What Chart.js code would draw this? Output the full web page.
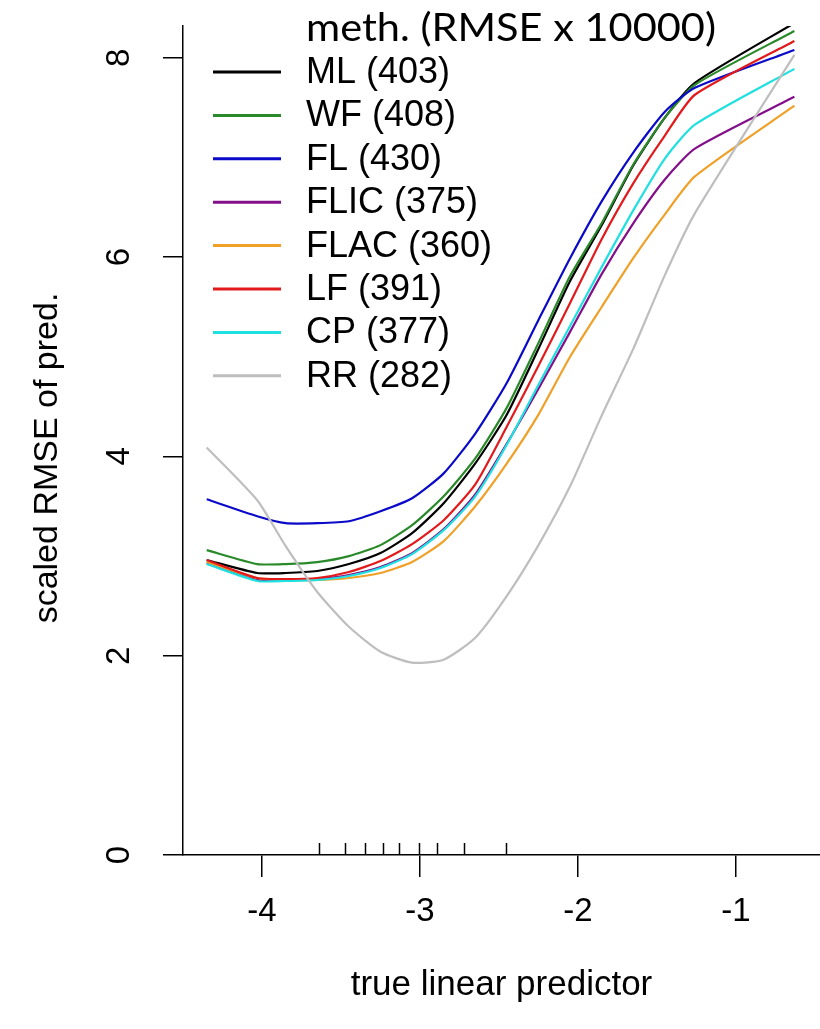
<!DOCTYPE html>
<html>
<head>
<meta charset="utf-8">
<script src="https://cdn.jsdelivr.net/npm/chart.js@4.4.1/dist/chart.umd.min.js"></script>
<style>
  html, body { margin:0; padding:0; background:#fff; }
  #wrap { width:820px; height:1029px; }
</style>
</head>
<body>
<div id="wrap"><canvas id="rmseChart" width="820" height="1029"></canvas></div>
<script>
// true linear predictor grid
const xGrid = [-4.35, -4.03, -3.85, -3.65, -3.45, -3.25, -3.05, -2.85, -2.65, -2.45, -2.25, -2.05, -1.85, -1.65, -1.45, -1.26, -0.63];

// scaled RMSE per method
const mlVals   = [2.96, 2.83, 2.83, 2.85, 2.92, 3.03, 3.23, 3.53, 3.93, 4.42, 5.08, 5.76, 6.32, 6.92, 7.40, 7.75, 8.35];
const wfVals   = [3.06, 2.92, 2.92, 2.94, 3.00, 3.11, 3.31, 3.60, 3.98, 4.49, 5.14, 5.81, 6.34, 6.93, 7.40, 7.73, 8.27];
const flVals   = [3.57, 3.40, 3.33, 3.33, 3.35, 3.45, 3.58, 3.83, 4.23, 4.74, 5.37, 5.99, 6.56, 7.05, 7.46, 7.70, 8.08];
const flicVals = [2.93, 2.76, 2.76, 2.77, 2.81, 2.89, 3.03, 3.27, 3.62, 4.13, 4.68, 5.25, 5.83, 6.34, 6.78, 7.09, 7.61];
const flacVals = [2.94, 2.78, 2.76, 2.76, 2.78, 2.83, 2.94, 3.15, 3.50, 3.93, 4.42, 5.00, 5.50, 5.99, 6.43, 6.81, 7.52];
const lfVals   = [2.96, 2.78, 2.77, 2.78, 2.84, 2.95, 3.12, 3.36, 3.72, 4.30, 4.91, 5.54, 6.18, 6.74, 7.22, 7.63, 8.17];
const cpVals   = [2.92, 2.75, 2.75, 2.76, 2.80, 2.88, 3.02, 3.26, 3.60, 4.12, 4.72, 5.31, 5.90, 6.47, 6.99, 7.33, 7.89];
const rrVals   = [4.09, 3.56, 3.10, 2.64, 2.29, 2.04, 1.93, 1.96, 2.18, 2.60, 3.11, 3.70, 4.41, 5.08, 5.82, 6.44, 8.03];

const methods = ['ML (403)', 'WF (408)', 'FL (430)', 'FLIC (375)', 'FLAC (360)', 'LF (391)', 'CP (377)', 'RR (282)'];
const lineColors = ['#000000', '#2a8a2a', '#0a0ac8', '#830f8a', '#f0a027', '#e31a1c', '#1fe0e0', '#bebebe'];
const seriesVals = [mlVals, wfVals, flVals, flicVals, flacVals, lfVals, cpVals, rrVals];

// rug of observed linear predictors
const rugX = [-3.64, -3.474, -3.346, -3.237, -3.13, -3.009, -2.89, -2.722, -2.454];

const xTicks = [-4, -3, -2, -1];
const yTicks = [0, 2, 4, 6, 8];

const AX_FONT = 'Liberation Sans, Arial, sans-serif';

const datasets = methods.map((m, i) => ({
  label: m,
  data: xGrid.map((x, j) => ({ x: x, y: seriesVals[i][j] })),
  borderColor: lineColors[i],
  borderWidth: 2.2,
  pointRadius: 0,
  fill: false,
  tension: 0.2,
  borderJoinStyle: 'round',
  order: methods.length - i
}));

const decor = {
  id: 'decor',
  afterDraw(chart){
    const ctx = chart.ctx;
    const xs = chart.scales.x;
    const area = chart.chartArea;
    ctx.save();
    // rug
    ctx.strokeStyle = '#000';
    ctx.lineWidth = 1.5;
    rugX.forEach(r => {
      const px = Math.round(xs.getPixelForValue(r)) + 0.5;
      ctx.beginPath();
      ctx.moveTo(px, area.bottom - 12);
      ctx.lineTo(px, area.bottom);
      ctx.stroke();
    });
    // y title
    ctx.fillStyle = '#000';
    ctx.save();
    ctx.translate(48, 458);
    ctx.rotate(-Math.PI / 2);
    ctx.font = '34px ' + AX_FONT;
    ctx.textAlign = 'center';
    ctx.textBaseline = 'middle';
    ctx.fillText('scaled RMSE of pred.', 0, 0);
    ctx.restore();
    // legend title
    ctx.save();
    ctx.font = '38px Lato, "Open Sans", sans-serif';
    ctx.textBaseline = 'middle';
    ctx.textAlign = 'left';
    const tt = 'meth. (RMSE x 10000)';
    const tw = ctx.measureText(tt).width;
    ctx.translate(306, 29);
    ctx.scale(410 / tw, 1);
    ctx.fillText(tt, 0, 0);
    ctx.restore();
    // legend entries
    ctx.font = '36px ' + AX_FONT;
    ctx.textBaseline = 'middle';
    chart.data.datasets.forEach((ds, i) => {
      const cy = 72 + i * 43.4;
      ctx.strokeStyle = ds.borderColor;
      ctx.lineWidth = 3;
      ctx.beginPath();
      ctx.moveTo(213, cy);
      ctx.lineTo(281, cy);
      ctx.stroke();
      ctx.fillStyle = '#000';
      ctx.fillText(ds.label, 306, cy + 1);
    });
    ctx.restore();
  }
};

new Chart(document.getElementById('rmseChart').getContext('2d'), {
  type: 'line',
  data: { datasets },
  options: {
    responsive: false,
    animation: false,
    events: [],
    devicePixelRatio: 1,
    layout: { padding: { top: 26, left: 0, right: 0, bottom: 0 } },
    plugins: { legend: { display: false }, tooltip: { enabled: false } },
    scales: {
      x: {
        type: 'linear',
        min: -4.5,
        max: -0.468,
        afterBuildTicks: s => { s.ticks = xTicks.map(v => ({ value: v })); },
        afterFit: s => { s.height = 174; s.paddingLeft = 0; s.paddingRight = 0; },
        grid: { drawOnChartArea: false, drawTicks: true, tickLength: 22, color: '#000', lineWidth: 1.5 },
        border: { display: true, color: '#000', width: 1.5 },
        ticks: { color: '#000', font: { family: AX_FONT, size: 33 }, padding: 15, maxRotation: 0, autoSkip: false },
        title: { display: true, text: 'true linear predictor', color: '#000', font: { family: AX_FONT, size: 35 }, padding: { top: 0, bottom: 23 } }
      },
      y: {
        type: 'linear',
        min: 0,
        max: 8.32,
        afterBuildTicks: s => { s.ticks = yTicks.map(v => ({ value: v })); },
        afterFit: s => { s.width = 183; s.paddingTop = 0; s.paddingBottom = 0; },
        grid: { drawOnChartArea: false, drawTicks: true, tickLength: 20, color: '#000', lineWidth: 1.5 },
        border: { display: true, color: '#000', width: 1.5 },
        ticks: { color: '#000', font: { family: AX_FONT, size: 33 }, padding: 34, minRotation: 90, maxRotation: 90, crossAlign: 'center', autoSkip: false }
      }
    }
  },
  plugins: [decor]
});
</script>
</body>
</html>
